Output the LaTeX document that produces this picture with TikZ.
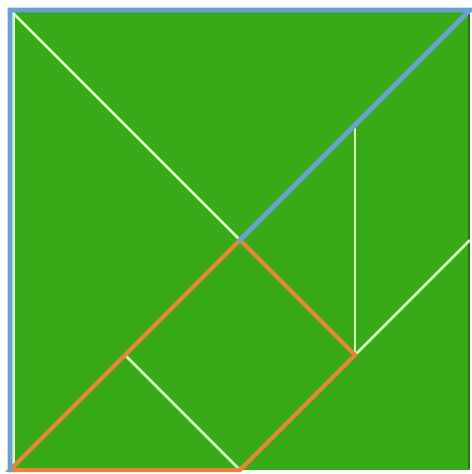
\documentclass[tikz,border=0pt]{standalone}
\usepackage{tikz}
\usetikzlibrary{positioning}
\definecolor{board}{RGB}{56,170,24}
\definecolor{edgeblue}{RGB}{106,160,212}
\definecolor{edgeorange}{RGB}{232,132,58}
\definecolor{cutline}{RGB}{214,248,190}
\tikzset{piece/.style = {fill = board, draw = none},
         cut/.style = {draw = cutline, line width = 1.6pt},
         blueedge/.style = {draw = edgeblue, line width = 2.8pt, line cap = round},
         orangeedge/.style = {draw = edgeorange, line width = 2.4pt, line cap = round},
}

\begin{document}
\begin{tikzpicture}[x = 0.02cm, y = -0.02cm]
  \useasboundingbox (0,0) rectangle (471,474);

  \coordinate (TL) at (10,10);
  \coordinate (TR) at (470,10);
  \coordinate (BL) at (10,470);
  \coordinate (BR) at (470,470);
  \coordinate (C)  at (240,240);
  \coordinate (BM) at (240,470);
  \coordinate (RM) at (470,240);
  \coordinate (P)  at (355,355);
  \coordinate (Q)  at (125,355);
  \coordinate (V)  at (355,125);

  \fill[piece] (TL) rectangle (BR);
  \draw[draw = board!70!black, line width = 0.8pt] (469,12) -- (469,469);

  % cuts
  \draw[cut] (13.5,12) -- (13.5,468);
  \draw[cut] (TL) -- (C);
  \draw[cut] (V) -- (P);
  \draw[cut] (RM) -- (BM);
  \draw[cut] (Q) -- (BM);

  % orange edges
  \draw[orangeedge] (BM) -- (BL) -- (C) -- (P);
  \draw[orangeedge, shift = {(4,4)}] (P) -- (BM);

  % blue edges
  \draw[blueedge] (BL) -- (TL) -- (TR) -- (C);
\end{tikzpicture}
\end{document}
